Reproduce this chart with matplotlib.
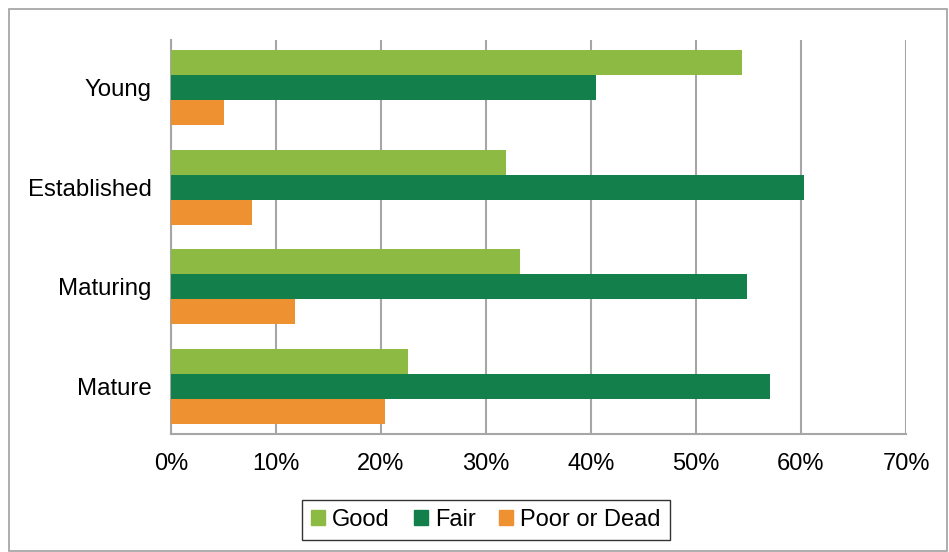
import numpy as np
import matplotlib
matplotlib.use("Agg")
import matplotlib.pyplot as plt
from matplotlib.patches import Rectangle, Patch
from matplotlib.ticker import PercentFormatter

# values (percent of trees)
categories = ["Young", "Established", "Maturing", "Mature"]
good = [54.4, 31.9, 33.2, 22.6]
fair = [40.5, 60.3, 54.9, 57.0]
poor = [5.0, 7.7, 11.8, 20.4]
series_names = ["Good", "Fair", "Poor or Dead"]
colors = ["#8DBA42", "#13804B", "#EE9231"]
xticks = [0, 10, 20, 30, 40, 50, 60, 70]

W, H = 949, 552
fig = plt.figure(figsize=(W / 100, H / 100), dpi=100)
plt.rcParams["font.family"] = ["Liberation Sans", "DejaVu Sans"]

ax = fig.add_axes([171 / W, 1 - 434 / H, (906 - 171) / W, (434 - 40) / H])

y = np.arange(len(categories))
h = 0.25
for off, vals, c, name in zip([-h, 0, h], [good, fair, poor], colors, series_names):
    ax.barh(y + off, vals, height=h, color=c, label=name, zorder=3)

ax.set_xlim(0, 70)
ax.set_ylim(-0.48, 3.48)
ax.invert_yaxis()
ax.set_xticks(xticks)
ax.xaxis.set_major_formatter(PercentFormatter(decimals=0))
ax.set_yticks(y)
ax.set_yticklabels(categories, fontsize=17.3)
ax.grid(axis="x", color="#A6A6A6", lw=1.5, zorder=0)

grey = "#A6A6A6"
for s in ["top", "right"]:
    ax.spines[s].set_visible(False)
for s in ["left", "bottom"]:
    ax.spines[s].set_color(grey)
    ax.spines[s].set_linewidth(1.5)
ax.tick_params(axis="y", length=0, pad=14)
ax.tick_params(axis="x", length=0, pad=14, labelsize=17)

handles = [Patch(color=c, label=n) for c, n in zip(colors, series_names)]
leg = fig.legend(handles=handles, loc="center", bbox_to_anchor=(486 / W, 1 - 520 / H),
                 ncol=3, frameon=True, fancybox=False, edgecolor="black",
                 handlelength=0.6, handleheight=0.6, handletextpad=0.3,
                 columnspacing=1.0, borderpad=0.4,
                 prop={"size": 17})
leg.get_frame().set_linewidth(1.0)

# outer chart border
fig.patches.append(Rectangle((9 / W, 1 / H), (W - 11) / W, (H - 10) / H,
                             transform=fig.transFigure, fill=False,
                             edgecolor="#A0A0A0", lw=1.2))

fig.savefig("out.png", dpi=100)
